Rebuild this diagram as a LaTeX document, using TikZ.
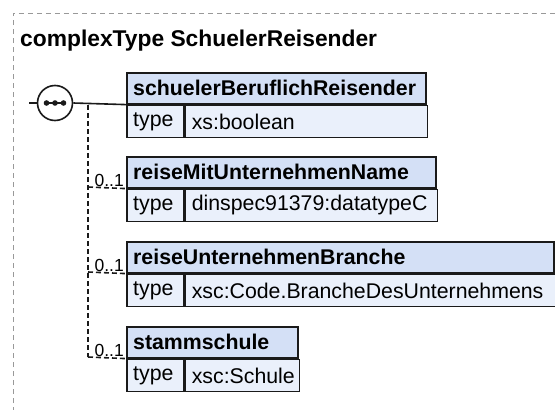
\documentclass[tikz,border=0pt]{standalone}
\usepackage{fontspec}
\setmainfont{Liberation Sans}
\definecolor{hdrfill}{HTML}{D4E0F6}
\definecolor{rowfill}{HTML}{EAF0FB}
\definecolor{edge}{HTML}{1A1A1A}
\definecolor{framegray}{HTML}{999999}
\tikzset{
  frameline/.style={draw=framegray, line width=1pt, dash pattern=on 5pt off 4pt},
  hdrbox/.style={draw=edge, fill=hdrfill, line width=1.6pt, inner sep=0pt, anchor=north west, minimum height=31pt},
  rowbox/.style={draw=edge, fill=rowfill, line width=1.6pt, inner sep=0pt, anchor=north west, minimum height=32pt},
  hdrtext/.style={anchor=west, inner sep=0pt, font=\fontsize{21.3}{25}\selectfont\bfseries},
  rowtext/.style={anchor=west, inner sep=0pt, font=\fontsize{21.3}{25}\selectfont},
  cardtext/.style={anchor=south east, inner sep=0pt, font=\fontsize{17.5}{20}\selectfont},
  solidconn/.style={draw=edge, line width=1.6pt},
  dashconn/.style={draw=edge, line width=1.6pt, dash pattern=on 5pt off 3pt},
}
\begin{document}
\begin{tikzpicture}[x=1pt,y=-1pt]
\useasboundingbox (0,0) rectangle (555,410);
\fill[white] (0,0) rectangle (555,410);
% frame
\draw[frameline] (13,412) -- (13,13) -- (557,13);
\node[anchor=base west, inner sep=0pt, font=\fontsize{22.8}{27}\selectfont\bfseries] (title) at (20,46) {complexType SchuelerReisender};

% box 1
\node[hdrbox, minimum width=299pt] (h1) at (126,72) {};
\node[hdrtext] (h1t) at ([xshift=7pt]h1.west) {schuelerBeruflichReisender};
\node[rowbox, minimum width=57pt] (k1) at (h1.south west) {};
\node[rowbox, minimum width=242pt] (v1) at (k1.north east) {};
\node[rowtext] (k1t) at ([xshift=7pt]k1.west) {type};
\node[rowtext] (v1t) at ([xshift=7pt]v1.west) {xs:boolean};

% box 2
\node[hdrbox, minimum width=309pt] (h2) at (126,156) {};
\node[hdrtext] (h2t) at ([xshift=7pt]h2.west) {reiseMitUnternehmenName};
\node[rowbox, minimum width=57pt] (k2) at (h2.south west) {};
\node[rowbox, minimum width=252pt] (v2) at (k2.north east) {};
\node[rowtext] (k2t) at ([xshift=7pt]k2.west) {type};
\node[rowtext] (v2t) at ([xshift=7pt]v2.west) {dinspec91379:datatypeC};

% box 3
\node[hdrbox, minimum width=427pt] (h3) at (126,241) {};
\node[hdrtext] (h3t) at ([xshift=7pt]h3.west) {reiseUnternehmenBranche};
\node[rowbox, minimum width=57pt] (k3) at (h3.south west) {};
\node[rowbox, minimum width=370pt] (v3) at (k3.north east) {};
\node[rowtext] (k3t) at ([xshift=7pt]k3.west) {type};
\node[rowtext] (v3t) at ([xshift=7pt]v3.west) {xsc:Code.BrancheDesUnternehmens};

% box 4
\node[hdrbox, minimum width=171pt] (h4) at (126,326) {};
\node[hdrtext] (h4t) at ([xshift=7pt]h4.west) {stammschule};
\node[rowbox, minimum width=57pt] (k4) at (h4.south west) {};
\node[rowbox, minimum width=114pt] (v4) at (k4.north east) {};
\node[rowtext] (k4t) at ([xshift=7pt]k4.west) {type};
\node[rowtext] (v4t) at ([xshift=7pt]v4.west) {xsc:Schule};

% sequence compositor
\coordinate (start) at (29,103);
\node[circle, draw=edge, fill=white, line width=1.6pt, minimum size=35pt, inner sep=0pt] (seq) at (55,103) {};
\draw[solidconn] (start) -- (seq.west);
\draw[solidconn] (seq.east) -- (h1.south west);
\draw[edge, line width=1.6pt] ([xshift=-10pt]seq.center) -- ([xshift=10pt]seq.center);
\fill[edge] ([xshift=-8.5pt]seq.center) circle (2.8pt);
\fill[edge] (seq.center) circle (2.8pt);
\fill[edge] ([xshift=8.5pt]seq.center) circle (2.8pt);

% optional branches
\coordinate (fork) at (88,105);
\coordinate (forkend) at (88,357);
\draw[dashconn] (fork) -- (forkend);
\draw[dashconn] (88,187) -- (h2.south west);
\draw[dashconn] (88,272) -- (h3.south west);
\draw[dashconn] (forkend) -- (h4.south west);
\node[cardtext] (c2) at ([xshift=-2pt,yshift=2pt]h2.south west) {0..1};
\node[cardtext] (c3) at ([xshift=-2pt,yshift=2pt]h3.south west) {0..1};
\node[cardtext] (c4) at ([xshift=-2pt,yshift=2pt]h4.south west) {0..1};
\end{tikzpicture}
\end{document}
